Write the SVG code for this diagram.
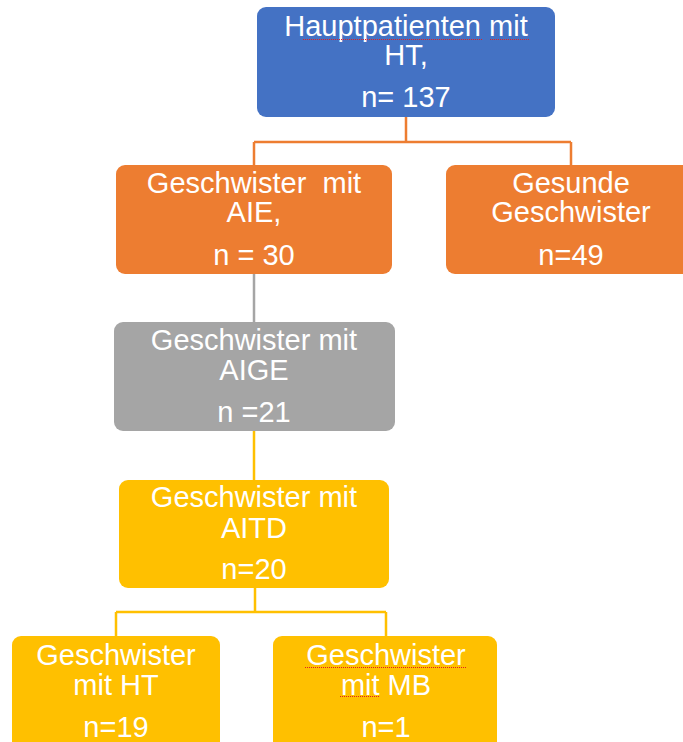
<svg xmlns="http://www.w3.org/2000/svg" width="683" height="742" viewBox="0 0 683 742">
  <style>
    .box { stroke: none; }
    .blue { fill: #4472C4; }
    .orange { fill: #ED7D31; }
    .gray { fill: #A5A5A5; }
    .yellow { fill: #FFC000; }
    .lbl { font-family: "Liberation Sans", Arial, sans-serif; font-size: 29px; fill: #FFFFFF; text-anchor: middle; white-space: pre; }
    .link { fill: none; stroke-width: 2.5; }
    .spell { fill: none; stroke: #E02020; stroke-width: 1.2; stroke-dasharray: 1 1; }
  </style>
  <rect width="683" height="742" fill="#FFFFFF"/>

  <g id="connectors">
    <path class="link" stroke="#ED7D31" d="M406 117 V142 M254 142 H571 M254 142 V165 M571 142 V165"/>
    <path class="link" stroke="#A5A5A5" d="M254 274 V322"/>
    <path class="link" stroke="#FFC000" d="M254 431 V480"/>
    <path class="link" stroke="#FFC000" d="M255 588 V612 M116 612 H386 M116 612 V636 M386 612 V636"/>
  </g>

  <g id="hauptpatienten">
    <rect class="box blue" x="257" y="7" width="298" height="110" rx="9"/>
    <text class="lbl" x="406" y="36">Hauptpatienten mit</text>
    <text class="lbl" x="406" y="65">HT,</text>
    <text class="lbl" x="406" y="107">n= 137</text>
    <path class="spell" d="M303 39.5 H483 M490 39.5 H530"/>
  </g>

  <g id="geschwister-aie">
    <rect class="box orange" x="116" y="165" width="276" height="109" rx="9"/>
    <text class="lbl" x="254" y="193">Geschwister  mit</text>
    <text class="lbl" x="254" y="222">AIE,</text>
    <text class="lbl" x="254" y="265">n = 30</text>
  </g>

  <g id="gesunde-geschwister">
    <rect class="box orange" x="446" y="165" width="250" height="109" rx="9"/>
    <text class="lbl" x="571" y="193">Gesunde</text>
    <text class="lbl" x="571" y="222">Geschwister</text>
    <text class="lbl" x="571" y="265">n=49</text>
  </g>

  <g id="geschwister-aige">
    <rect class="box gray" x="114" y="322" width="281" height="109" rx="9"/>
    <text class="lbl" x="254" y="350">Geschwister mit</text>
    <text class="lbl" x="254" y="380">AIGE</text>
    <text class="lbl" x="254" y="422">n =21</text>
  </g>

  <g id="geschwister-aitd">
    <rect class="box yellow" x="119" y="480" width="270" height="108" rx="9"/>
    <text class="lbl" x="254" y="507">Geschwister mit</text>
    <text class="lbl" x="254" y="538">AITD</text>
    <text class="lbl" x="254" y="579">n=20</text>
  </g>

  <g id="geschwister-ht">
    <rect class="box yellow" x="12" y="636" width="208" height="120" rx="9"/>
    <text class="lbl" x="116" y="665">Geschwister</text>
    <text class="lbl" x="116" y="695">mit HT</text>
    <text class="lbl" x="116" y="737">n=19</text>
  </g>

  <g id="geschwister-mb">
    <rect class="box yellow" x="273" y="636" width="224" height="120" rx="9"/>
    <text class="lbl" x="386" y="665">Geschwister</text>
    <text class="lbl" x="386" y="695">mit MB</text>
    <text class="lbl" x="386" y="737">n=1</text>
    <path class="spell" d="M305 667.5 H467 M340 696.5 H380"/>
  </g>
</svg>
